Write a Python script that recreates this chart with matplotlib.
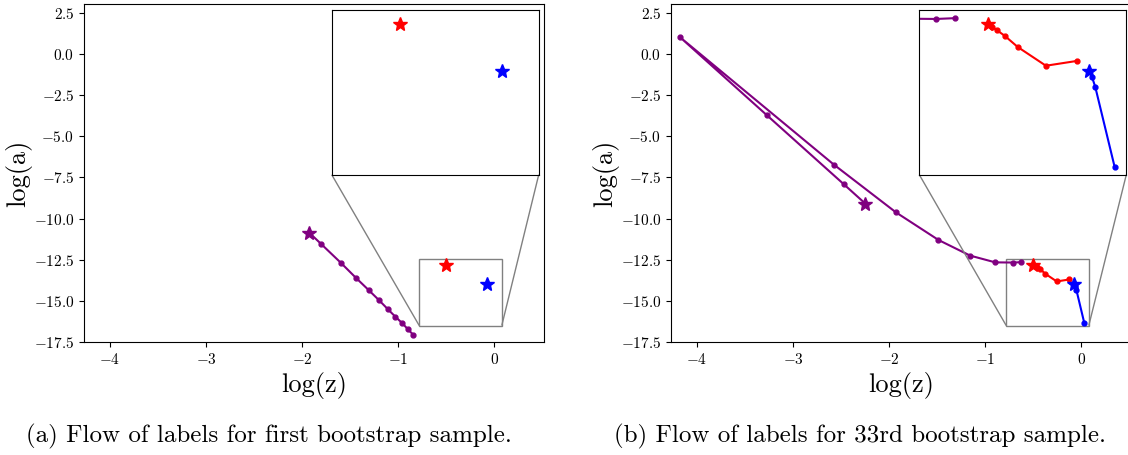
import matplotlib
matplotlib.use('Agg')
import matplotlib.pyplot as plt
from mpl_toolkits.axes_grid1.inset_locator import mark_inset

plt.rcParams['font.family'] = 'serif'
plt.rcParams['font.serif'] = ['cmr10']
plt.rcParams['mathtext.fontset'] = 'cm'
plt.rcParams['axes.formatter.use_mathtext'] = True
plt.rcParams['axes.unicode_minus'] = True

# panel (a): first bootstrap sample
a_purple_x = [-1.924, -1.798, -1.597, -1.437, -1.307, -1.200, -1.109, -1.029, -0.956, -0.897, -0.841]
a_purple_y = [-10.86, -11.56, -12.68, -13.61, -14.34, -14.95, -15.49, -15.96, -16.36, -16.73, -17.07]
a_red_x = [-0.496]
a_red_y = [-12.79]
a_blue_x = [-0.073]
a_blue_y = [-13.95]

# panel (b): 33rd bootstrap sample
b_purple_x = [-2.247, -2.471, -3.271, -4.175, -2.574, -1.928, -1.485, -1.155, -0.894, -0.71, -0.63]
b_purple_y = [-9.09, -7.91, -3.72, 1.02, -6.72, -9.62, -11.30, -12.25, -12.66, -12.67, -12.65]
b_red_x = [-0.496, -0.478, -0.457, -0.426, -0.371, -0.254, -0.123]
b_red_y = [-12.79, -12.86, -12.95, -13.08, -13.36, -13.82, -13.70]
b_blue_x = [-0.073, -0.063, -0.049, 0.032]
b_blue_y = [-13.95, -14.09, -14.34, -16.32]

captions = ['(a) Flow of labels for first bootstrap sample.',
            '(b) Flow of labels for 33rd bootstrap sample.']


def draw_flow(ax, xs, ys, color, star_size=10):
    if len(xs) > 1:
        ax.plot(xs, ys, '-o', color=color, markersize=3.5, linewidth=1.5)
    ax.plot(xs[0], ys[0], '*', color=color, markersize=star_size)


fig = plt.figure(figsize=(11.28, 4.55), dpi=100)

panels = [
    (0.0745, 0.2941, 0.2385, [(a_purple_x, a_purple_y, 'purple'), (a_red_x, a_red_y, 'red'), (a_blue_x, a_blue_y, 'blue')]),
    (0.5949, 0.815, 0.7624, [(b_purple_x, b_purple_y, 'purple'), (b_red_x, b_red_y, 'red'), (b_blue_x, b_blue_y, 'blue')]),
]

for i, (x0, inset_x0, cap_x, series) in enumerate(panels):
    ax = fig.add_axes([x0, 0.2484, 0.4078, 0.7429])
    for xs, ys, c in series:
        draw_flow(ax, xs, ys, c)
    ax.set_xlim(-4.27, 0.52)
    ax.set_ylim(-17.5, 3.05)
    ax.set_xticks([-4, -3, -2, -1, 0])
    ax.set_yticks([2.5, 0, -2.5, -5, -7.5, -10, -12.5, -15, -17.5])
    ax.tick_params(labelsize=11)
    ax.set_xlabel('log(z)', fontsize=19)
    ax.set_ylabel('log(a)', fontsize=19, labelpad=1)

    axins = fig.add_axes([inset_x0, 0.616, 0.1835, 0.362])
    for xs, ys, c in series:
        draw_flow(axins, xs, ys, c)
    axins.set_xlim(-0.78, 0.08)
    axins.set_ylim(-16.5, -12.45)
    axins.set_xticks([])
    axins.set_yticks([])
    mark_inset(ax, axins, loc1=3, loc2=4, fc='none', ec='0.5')

    fig.text(cap_x, 0.04, captions[i], fontsize=18, ha='center', va='center')

fig.savefig('out.png', dpi=100)
